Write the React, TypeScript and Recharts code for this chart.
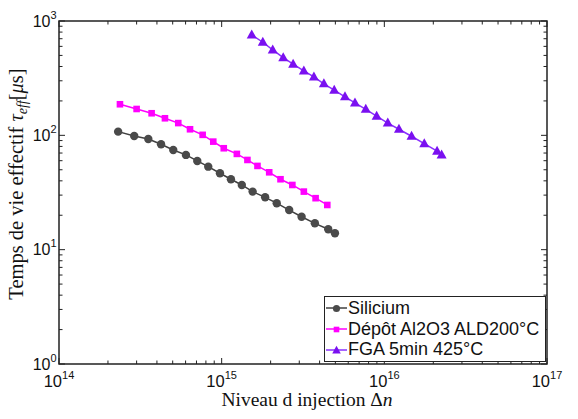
import React from "react";
import { LineChart, Line, XAxis, YAxis, ReferenceArea, Legend } from "recharts";

// valeurs (Δn en cm^-3, τ_eff en µs)
const siliciumX = [
  2.31e14, 2.9e14, 3.54e14, 4.24e14, 5.04e14, 6.03e14, 7.08e14, 8.27e14, 9.76e14,
  1.14e15, 1.33e15, 1.55e15, 1.85e15, 2.18e15, 2.6e15, 3.1e15, 3.74e15, 4.52e15, 4.97e15,
];
const siliciumY = [
  107.7, 98.8, 93.0, 83.6, 74.5, 67.4, 59.7, 53.2, 46.6,
  41.3, 36.8, 32.2, 28.7, 25.5, 22.2, 19.4, 17.0, 15.1, 13.9,
];

const depotX = [
  2.37e14, 3.0e14, 3.71e14, 4.48e14, 5.41e14, 6.39e14, 7.64e14, 8.88e14, 1.03e15,
  1.24e15, 1.44e15, 1.66e15, 1.96e15, 2.3e15, 2.72e15, 3.2e15, 3.78e15, 4.46e15,
];
const depotY = [
  187, 170, 156, 141, 128, 113, 101, 88.1, 77.1,
  68.8, 60.9, 54.0, 47.5, 41.3, 36.8, 32.2, 28.2, 24.6,
];

const fgaX = [
  1.53e15, 1.79e15, 2.06e15, 2.39e15, 2.75e15, 3.2e15, 3.69e15, 4.25e15, 4.92e15, 5.73e15,
  6.6e15, 7.69e15, 8.97e15, 1.05e16, 1.23e16, 1.47e16, 1.76e16, 2.11e16, 2.25e16,
];
const fgaY = [
  756, 652, 559, 478, 419, 366, 324, 282, 248, 217,
  192, 169, 147, 128, 113, 98.2, 84.6, 72.7, 67.4,
];

const xDecades = [1e14, 1e15, 1e16, 1e17];
const yDecades = [1, 10, 100, 1000];
const minorSteps = [2, 3, 4, 5, 6, 7, 8, 9];

const W = 578;
const H = 419;
const PLOT_LEFT = 59;
const PLOT_RIGHT = 547;
const PLOT_TOP = 21;
const PLOT_BOTTOM = 364;
const AXIS = "#222";
const SANS = "'Liberation Sans', Arial, Helvetica, sans-serif";
const SERIF = "'Liberation Serif', 'Times New Roman', serif";

const withMinor = (decades: number[]) => {
  const out: number[] = [];
  decades.forEach((d, i) => {
    out.push(d);
    if (i < decades.length - 1) minorSteps.forEach((m) => out.push(d * m));
  });
  return out;
};
const xTicks = withMinor(xDecades);
const yTicks = withMinor(yDecades);

const toPoints = (xs: number[], ys: number[]) => xs.map((x, i) => ({ x, y: ys[i] }));

type Shape = "circle" | "square" | "triangle";

const series = [
  { name: "Silicium", color: "#4a4a4a", line: "#404040", shape: "circle" as Shape, data: toPoints(siliciumX, siliciumY) },
  { name: "Dépôt Al2O3 ALD200°C", color: "#ff00ff", line: "#ff00ff", shape: "square" as Shape, data: toPoints(depotX, depotY) },
  { name: "FGA 5min 425°C", color: "#7a10f0", line: "#8a30ff", shape: "triangle" as Shape, data: toPoints(fgaX, fgaY) },
];

function Marker({ shape, cx, cy, color, k = 1 }: { shape: Shape; cx: number; cy: number; color: string; k?: number }) {
  if (shape === "circle") return <circle cx={cx} cy={cy} r={4.2 * k} fill={color} />;
  if (shape === "square") return <rect x={cx - 3.3 * k} y={cy - 3.3 * k} width={6.6 * k} height={6.6 * k} fill={color} />;
  return (
    <polygon
      points={`${cx},${cy - 5.5 * k} ${cx - 5 * k},${cy + 3.5 * k} ${cx + 5 * k},${cy + 3.5 * k}`}
      fill={color}
    />
  );
}

const isMajor = (v: number) => Math.abs(Math.log10(v) - Math.round(Math.log10(v))) < 1e-6;

function XTick(props: any) {
  const { x, payload } = props;
  const v = payload.value;
  const major = isMajor(v);
  const len = major ? 6 : 3.5;
  return (
    <g>
      <line x1={x} y1={PLOT_BOTTOM} x2={x} y2={PLOT_BOTTOM - len} stroke={AXIS} strokeWidth={1} />
      <line x1={x} y1={PLOT_TOP} x2={x} y2={PLOT_TOP + len} stroke={AXIS} strokeWidth={1} />
      {major && (
        <text x={x} y={PLOT_BOTTOM + 23} textAnchor="middle" fontFamily={SANS} fontSize={16.5} fill="#111">
          <tspan>10</tspan>
          <tspan dy={-8} fontSize={11}>{Math.round(Math.log10(v))}</tspan>
        </text>
      )}
    </g>
  );
}

function YTick(props: any) {
  const { y, payload } = props;
  const v = payload.value;
  const major = isMajor(v);
  const len = major ? 6 : 3.5;
  return (
    <g>
      <line x1={PLOT_LEFT} y1={y} x2={PLOT_LEFT + len} y2={y} stroke={AXIS} strokeWidth={1} />
      <line x1={PLOT_RIGHT} y1={y} x2={PLOT_RIGHT - len} y2={y} stroke={AXIS} strokeWidth={1} />
      {major && (
        <text x={50.5} y={y + 5.5} textAnchor="end" fontFamily={SANS} fontSize={16} fill="#111">
          10
        </text>
      )}
      {major && (
        <text x={50.5} y={y - 2.5} textAnchor="start" fontFamily={SANS} fontSize={11} fill="#111">
          {Math.round(Math.log10(v))}
        </text>
      )}
    </g>
  );
}

function LegendBox() {
  return (
    <div
      style={{
        border: `1.5px solid ${AXIS}`,
        background: "#fff",
        width: 222,
        padding: "1px 0 1px 0",
        boxSizing: "border-box",
        fontFamily: SANS,
        fontSize: 18,
        color: "#111",
      }}
    >
      {series.map((s) => (
        <div key={s.name} style={{ display: "flex", alignItems: "center", height: 20.7, whiteSpace: "nowrap" }}>
          <svg width={24} height={12} style={{ flex: "none" }}>
            <line x1={1} y1={6} x2={22} y2={6} stroke={s.line} strokeWidth={1.5} />
            <Marker shape={s.shape} cx={11.5} cy={6.5} color={s.color} k={0.85} />
          </svg>
          <span style={{ marginLeft: -1 }}>{s.name}</span>
        </div>
      ))}
    </div>
  );
}

export default function App() {
  return (
    <div style={{ position: "absolute", left: 0, top: 0, width: W, height: H, background: "#fff" }}>
      <LineChart
        width={W}
        height={H}
        margin={{ top: PLOT_TOP, right: W - PLOT_RIGHT, bottom: 25, left: 19 }}
      >
        <XAxis
          dataKey="x"
          type="number"
          scale="log"
          domain={[1e14, 1e17]}
          ticks={xTicks}
          allowDataOverflow
          height={30}
          tickSize={0}
          tickMargin={0}
          axisLine={false}
          tickLine={false}
          tick={<XTick />}
          interval={0}
        />
        <YAxis
          dataKey="y"
          type="number"
          scale="log"
          domain={[1, 1000]}
          ticks={yTicks}
          allowDataOverflow
          width={40}
          tickSize={0}
          tickMargin={0}
          axisLine={false}
          tickLine={false}
          tick={<YTick />}
          interval={0}
        />
        <ReferenceArea
          x1={1e14}
          x2={1e17}
          y1={1}
          y2={1000}
          fill="none"
          stroke={AXIS}
          strokeWidth={1.5}
          ifOverflow="visible"
        />
        {series.map((s) => (
          <Line
            key={s.name}
            data={s.data}
            dataKey="y"
            name={s.name}
            stroke={s.line}
            strokeWidth={1.5}
            isAnimationActive={false}
            dot={(p: any) => (
              <Marker key={`${s.name}-${p.index}`} shape={s.shape} cx={p.cx} cy={p.cy} color={s.color} />
            )}
            activeDot={false}
          />
        ))}
        <Legend
          layout="vertical"
          align="center"
          verticalAlign="middle"
          wrapperStyle={{ left: 324, top: 296, width: 222 }}
          content={() => <LegendBox />}
        />
      </LineChart>
      <svg width={W} height={H} style={{ position: "absolute", left: 0, top: 0, pointerEvents: "none" }}>
        <text x={307} y={406} textAnchor="middle" fontFamily={SERIF} fontSize={19.5} fill="#111">
          Niveau d injection Δ<tspan fontStyle="italic">n</tspan>
        </text>
        <text
          transform="translate(23,184) rotate(-90)"
          textAnchor="middle"
          fontFamily={SERIF}
          fontSize={20.5}
          fill="#111"
        >
          Temps de vie effectif <tspan fontStyle="italic">τ</tspan>
          <tspan fontStyle="italic" fontSize={14} dy={4}>eff</tspan>
          <tspan dy={-4}>[</tspan>
          <tspan fontStyle="italic">μ</tspan>s]
        </text>
      </svg>
    </div>
  );
}
